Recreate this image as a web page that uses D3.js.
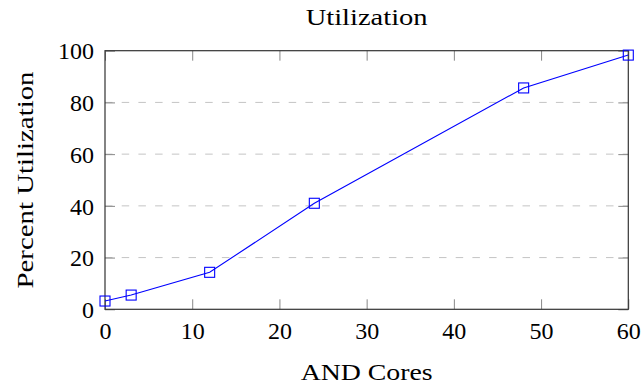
<!DOCTYPE html>
<html>
<head>
<meta charset="utf-8">
<script src="https://cdn.jsdelivr.net/npm/d3@7"></script>
<style>
  html, body { margin: 0; padding: 0; background: #fff; }
  svg { display: block; }
</style>
</head>
<body>
<svg id="chart" width="642" height="384"></svg>
<script>
const cores = [0, 3, 12, 24, 48, 60];
const utilization = [3.2, 5.5, 14.3, 41.0, 85.6, 98.3];
const xTicks = [0, 10, 20, 30, 40, 50, 60];
const yTicks = [0, 20, 40, 60, 80, 100];
const gridTicks = [20, 40, 60, 80];
const titleText = "Utilization";
const xLabelText = "AND Cores";
const yLabelText = "Percent Utilization";

const FONT = '"Liberation Serif"';
const L = 105, R = 628.3, T = 50.7, B = 309.3;
const svg = d3.select("#chart");

const x = d3.scaleLinear().domain([0, 60]).range([L, R]);
const y = d3.scaleLinear().domain([0, 100]).range([B, T]);

// grid
svg.append("g").selectAll("line").data(gridTicks).join("line")
  .attr("x1", L).attr("x2", R)
  .attr("y1", d => y(d)).attr("y2", d => y(d))
  .attr("stroke", "#c4c4c4").attr("stroke-width", 1)
  .attr("stroke-dasharray", "7.5,9.2");

const tickLen = 10;
function styleAxis(g) {
  g.attr("font-family", null).attr("font-size", null);
  g.select(".domain").remove();
  g.selectAll(".tick line").attr("stroke", "#888").attr("stroke-width", 1);
  g.selectAll(".tick text").style("font-family", FONT).style("font-size", "24px").attr("fill", "#000");
}

// bottom axis
const gB = svg.append("g").attr("transform", `translate(0,${B})`)
  .call(d3.axisBottom(x).tickValues(xTicks).tickSizeInner(-tickLen).tickSizeOuter(0).tickPadding(0).tickFormat(d3.format("d")));
styleAxis(gB);
gB.selectAll(".tick text").attr("y", 30).attr("dy", 0);
// top axis (ticks only)
const gT = svg.append("g").attr("transform", `translate(0,${T})`)
  .call(d3.axisTop(x).tickValues(xTicks).tickSizeInner(-tickLen).tickSizeOuter(0).tickFormat(""));
styleAxis(gT);
// left axis
const gL = svg.append("g").attr("transform", `translate(${L},0)`)
  .call(d3.axisLeft(y).tickValues(yTicks).tickSizeInner(-tickLen).tickSizeOuter(0).tickPadding(0).tickFormat(d3.format("d")));
styleAxis(gL);
gL.selectAll(".tick text").attr("x", -11).attr("dy", "0.34em");
// right axis
const gR = svg.append("g").attr("transform", `translate(${R},0)`)
  .call(d3.axisRight(y).tickValues(yTicks).tickSizeInner(-tickLen).tickSizeOuter(0).tickFormat(""));
styleAxis(gR);

// frame
svg.append("rect").attr("x", L).attr("y", T).attr("width", R - L).attr("height", B - T)
  .attr("fill", "none").attr("stroke", "#333").attr("stroke-width", 1.2);

// series
const pts = cores.map((c, i) => [c, utilization[i]]);
svg.append("path").datum(pts)
  .attr("fill", "none").attr("stroke", "#0000ff").attr("stroke-width", 1.1)
  .attr("d", d3.line().x(d => x(d[0])).y(d => y(d[1])));
const ms = 10;
svg.append("g").selectAll("rect").data(pts).join("rect")
  .attr("x", d => x(d[0]) - ms / 2).attr("y", d => y(d[1]) - ms / 2)
  .attr("width", ms).attr("height", ms)
  .attr("fill", "none").attr("stroke", "#0000ff").attr("stroke-width", 1.1);

// labels
function label(sel) {
  return sel.style("font-family", FONT).style("font-size", "24px").attr("fill", "#000")
    .attr("text-anchor", "middle").attr("lengthAdjust", "spacingAndGlyphs");
}
label(svg.append("text")).attr("x", (L + R) / 2).attr("y", 25)
  .attr("textLength", 122).text(titleText);
label(svg.append("text")).attr("x", (L + R) / 2).attr("y", 380)
  .attr("textLength", 132).text(xLabelText);
label(svg.append("text")).attr("transform", `translate(33,${(T + B) / 2}) rotate(-90)`)
  .attr("textLength", 217).text(yLabelText);
</script>
</body>
</html>
